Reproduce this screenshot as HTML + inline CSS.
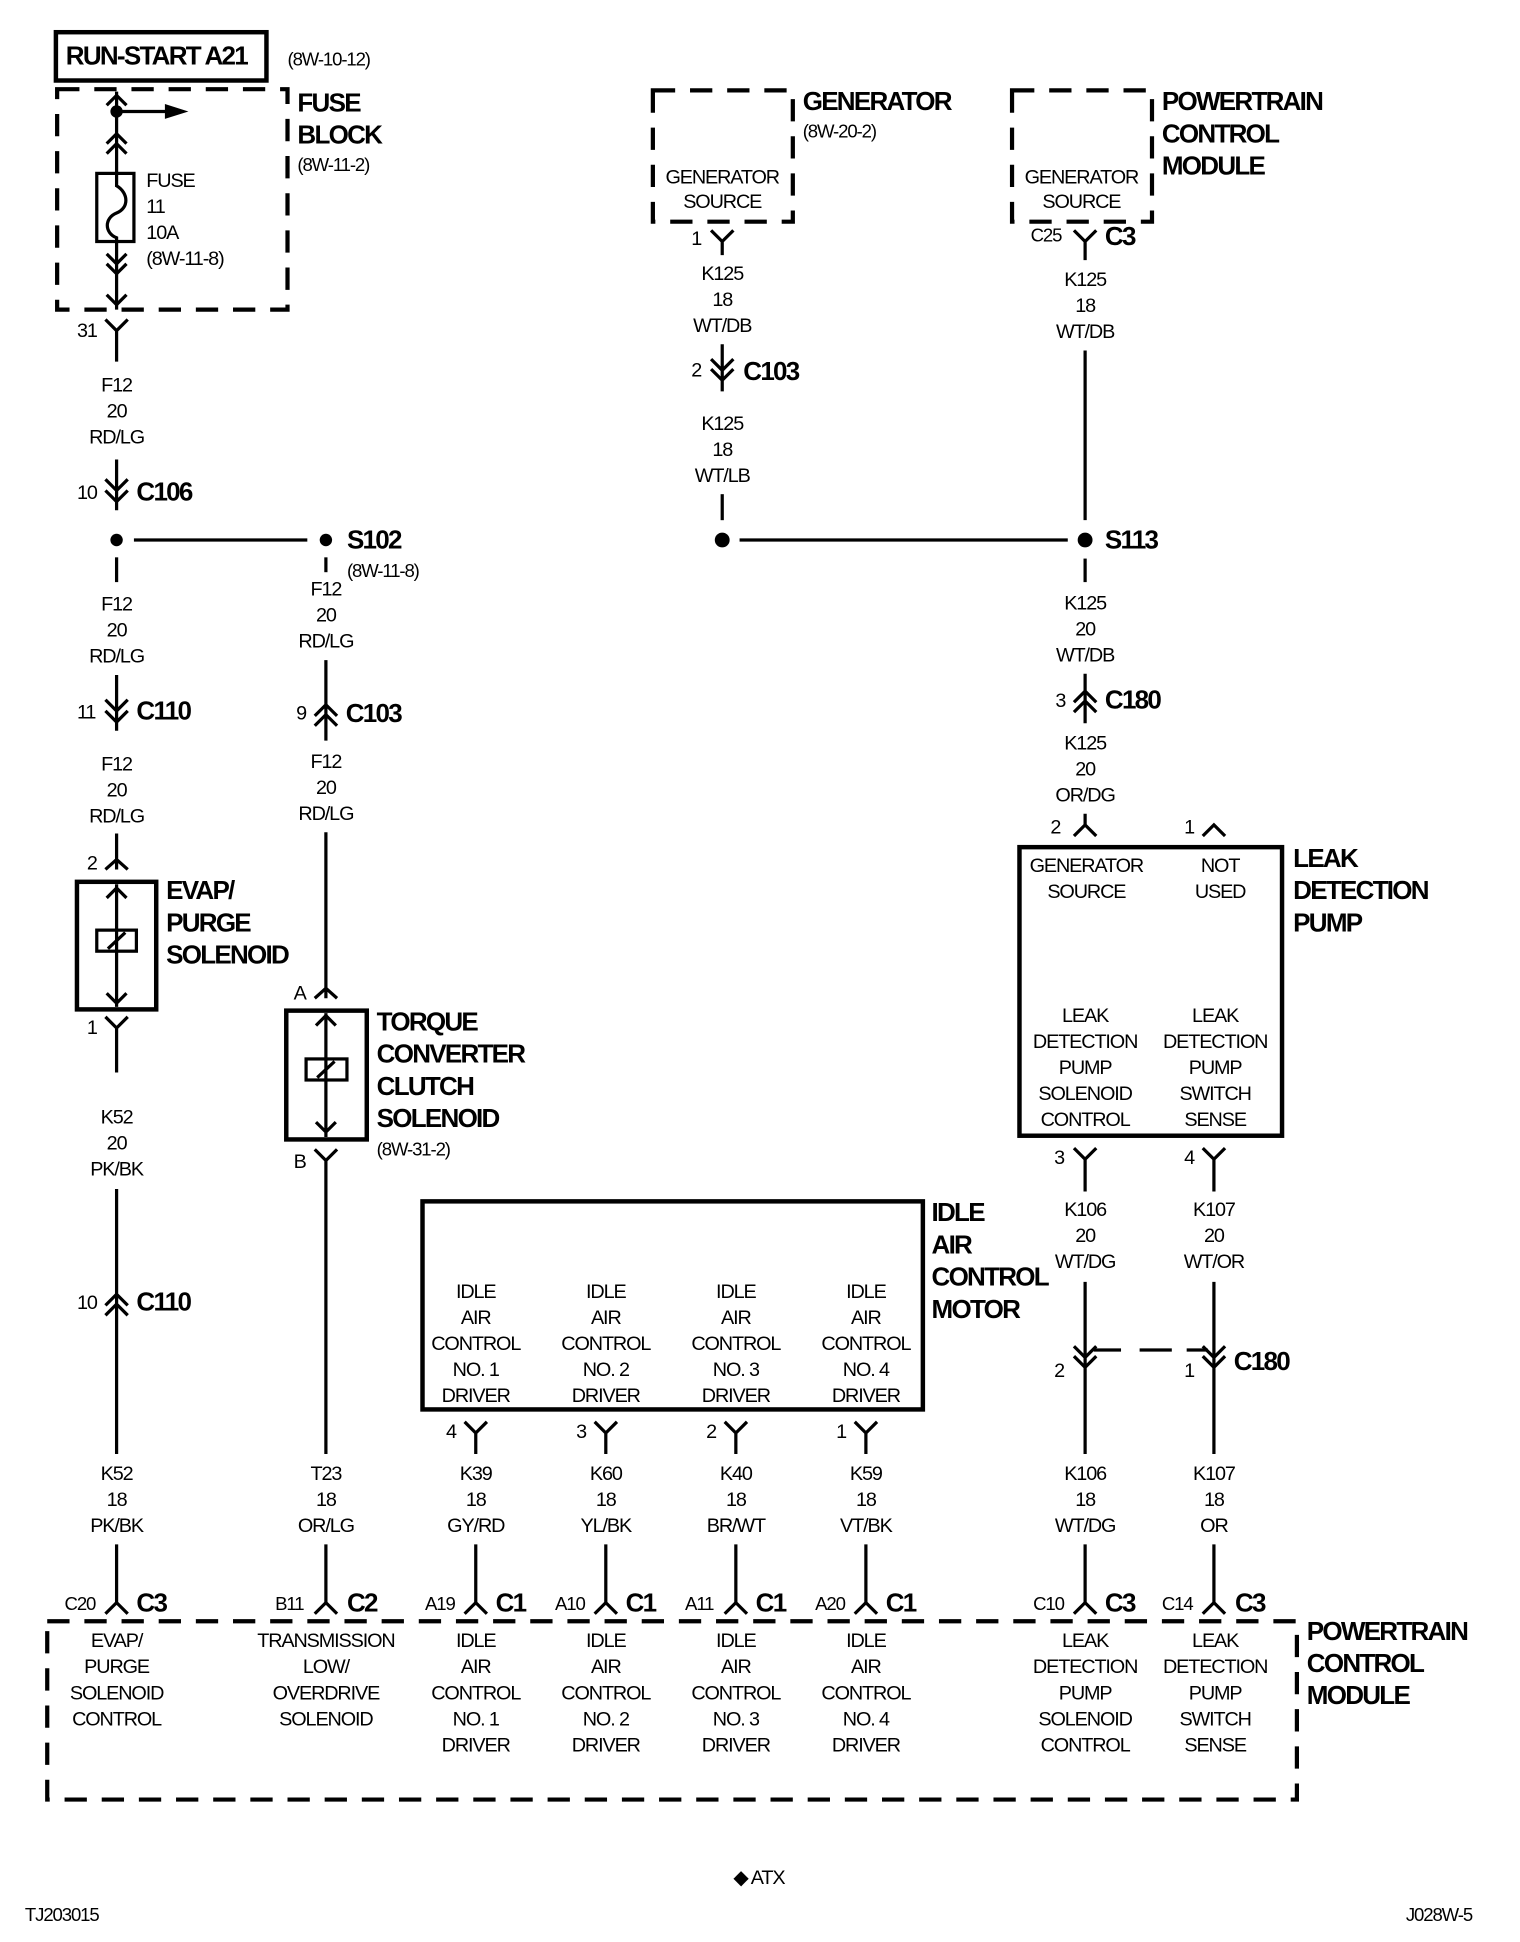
<!DOCTYPE html>
<html><head><meta charset="utf-8"><style>
html,body{margin:0;padding:0;background:#fff}
svg{display:block}
text{font-family:"Liberation Sans",sans-serif;fill:#000}
.t{font-size:16px;text-anchor:middle;letter-spacing:-0.9px}
.l{font-size:16px;letter-spacing:-0.9px}
.b{font-size:21px;font-weight:bold;letter-spacing:-1.4px}
.p{font-size:15px;letter-spacing:-0.9px}
.w{stroke:#000;stroke-width:2.6;fill:none}
.d{stroke:#000;stroke-width:3.4;fill:none;stroke-dasharray:18,12}
.bx{stroke:#000;stroke-width:3.6;fill:none}
</style></head><body>
<svg width="1520" height="1942" viewBox="0 0 1227 1568" xmlns="http://www.w3.org/2000/svg">
<rect width="1227" height="1568" fill="#fff"/>
<rect class="bx" x="45" y="26" width="170" height="39"/>
<text class="b" x="53" y="52">RUN-START A21</text>
<text class="p" x="232" y="53">(8W-10-12)</text>
<rect class="d" x="46" y="72" width="186" height="178"/>
<text class="b" x="240" y="90">FUSE</text>
<text class="b" x="240" y="116">BLOCK</text>
<text class="p" x="240" y="138">(8W-11-2)</text>
<path class="w" d="M94 74 V140 M94 195 V250"/>
<path class="w" d="M86 85 L94 77 L102 85 M86 116 L94 108 L102 116 M86 124 L94 116 L102 124 M86 205 L94 213 L102 205 M86 213 L94 221 L102 213 M86 238 L94 246 L102 238"/>
<circle cx="94" cy="90" r="5"/>
<path class="w" d="M94 90 H135"/><path d="M133 84 L152 90 L133 96Z"/>
<rect class="w" x="78" y="140" width="30" height="55"/>
<path class="w" d="M94 140 V150 C104 156 104 168 94 172 C84 176 84 188 94 192 V195"/>
<text class="l" x="118" y="151">FUSE</text>
<text class="l" x="118" y="172">11</text>
<text class="l" x="118" y="193">10A</text>
<text class="l" x="118" y="214">(8W-11-8)</text>
<path class="w" d="M85 258 L94 267 L103 258 M94 267 V292"/>
<text class="l" x="62" y="272">31</text>
<text class="t" x="94" y="316">F12</text><text class="t" x="94" y="337">20</text><text class="t" x="94" y="358">RD/LG</text>
<path class="w" d="M94 371 V412 M85 387 L94 396 L103 387 M85 396 L94 405 L103 396"/>
<text class="l" x="62" y="403">10</text><text class="b" x="110" y="404">C106</text>
<circle cx="94" cy="436" r="5"/><circle cx="263" cy="436" r="5"/>
<path class="w" d="M108 436 H248"/>
<text class="b" x="280" y="443">S102</text><text class="p" x="280" y="466">(8W-11-8)</text>
<path class="w" d="M94 450 V470"/>
<text class="t" x="94" y="493">F12</text><text class="t" x="94" y="514">20</text><text class="t" x="94" y="535">RD/LG</text>
<path class="w" d="M94 545 V590 M85 565 L94 574 L103 565 M85 574 L94 583 L103 574"/>
<text class="l" x="62" y="580">11</text><text class="b" x="110" y="581">C110</text>
<text class="t" x="94" y="622">F12</text><text class="t" x="94" y="643">20</text><text class="t" x="94" y="664">RD/LG</text>
<path class="w" d="M94 673 V702 M85 702 L94 694 L103 702"/>
<text class="l" x="70" y="702">2</text>
<rect class="bx" x="62" y="712" width="64" height="103"/>
<path class="w" d="M94 714 V813 M86 725 L94 717 L102 725 M86 802 L94 810 L102 802"/>
<rect class="w" x="78" y="751" width="32" height="17" fill="#fff"/>
<path class="w" d="M87 766 L101 753"/>
<text class="b" x="134" y="726">EVAP/</text><text class="b" x="134" y="752">PURGE</text><text class="b" x="134" y="778">SOLENOID</text>
<path class="w" d="M85 821 L94 830 L103 821 M94 830 V866"/>
<text class="l" x="70" y="835">1</text>
<text class="t" x="94" y="907">K52</text><text class="t" x="94" y="928">20</text><text class="t" x="94" y="949">PK/BK</text>
<path class="w" d="M94 960 V1174 M85 1054 L94 1045 L103 1054 M85 1062 L94 1053 L103 1062"/>
<text class="l" x="62" y="1057">10</text><text class="b" x="110" y="1058">C110</text>
<text class="t" x="94" y="1195">K52</text><text class="t" x="94" y="1216">18</text><text class="t" x="94" y="1237">PK/BK</text>
<path class="w" d="M94 1247 V1296 M85 1303 L94 1294 L103 1303"/>
<text class="p" x="52" y="1300">C20</text><text class="b" x="110" y="1301">C3</text>
<path class="w" d="M263 450 V462"/>
<text class="t" x="263" y="481">F12</text><text class="t" x="263" y="502">20</text><text class="t" x="263" y="523">RD/LG</text>
<path class="w" d="M263 533 V598 M254 578 L263 569 L272 578 M254 586 L263 577 L272 586"/>
<text class="l" x="239" y="581">9</text><text class="b" x="279" y="583">C103</text>
<text class="t" x="263" y="620">F12</text><text class="t" x="263" y="641">20</text><text class="t" x="263" y="662">RD/LG</text>
<path class="w" d="M263 672 V806 M254 806 L263 798 L272 806"/>
<text class="l" x="237" y="807">A</text>
<rect class="bx" x="231" y="816" width="65" height="104"/>
<path class="w" d="M263 818 V918 M255 828 L263 820 L271 828 M255 906 L263 914 L271 906"/>
<rect class="w" x="247" y="855" width="33" height="17" fill="#fff"/>
<path class="w" d="M256 870 L270 857"/>
<text class="b" x="304" y="832">TORQUE</text><text class="b" x="304" y="858">CONVERTER</text><text class="b" x="304" y="884">CLUTCH</text><text class="b" x="304" y="910">SOLENOID</text>
<text class="p" x="304" y="933">(8W-31-2)</text>
<path class="w" d="M254 928 L263 937 L272 928 M263 937 V1174"/>
<text class="l" x="237" y="943">B</text>
<text class="t" x="263" y="1195">T23</text><text class="t" x="263" y="1216">18</text><text class="t" x="263" y="1237">OR/LG</text>
<path class="w" d="M263 1247 V1296 M254 1303 L263 1294 L272 1303"/>
<text class="p" x="222" y="1300">B11</text><text class="b" x="280" y="1301">C2</text>
<rect class="d" x="527" y="73" width="113" height="106"/>
<text class="b" x="648" y="89">GENERATOR</text><text class="p" x="648" y="111">(8W-20-2)</text>
<text class="t" x="583" y="148">GENERATOR</text><text class="t" x="583" y="168">SOURCE</text>
<path class="w" d="M574 186 L583 195 L592 186 M583 195 V206"/>
<text class="l" x="558" y="198">1</text>
<text class="t" x="583" y="226">K125</text><text class="t" x="583" y="247">18</text><text class="t" x="583" y="268">WT/DB</text>
<path class="w" d="M583 278 V316 M574 290 L583 299 L592 290 M574 298 L583 307 L592 298"/>
<text class="l" x="558" y="304">2</text><text class="b" x="600" y="307">C103</text>
<text class="t" x="583" y="347">K125</text><text class="t" x="583" y="368">18</text><text class="t" x="583" y="389">WT/LB</text>
<path class="w" d="M583 399 V420"/>
<circle cx="583" cy="436" r="6"/><circle cx="876" cy="436" r="6"/>
<path class="w" d="M597 436 H862"/>
<text class="b" x="892" y="443">S113</text>
<rect class="d" x="817" y="73" width="113" height="106"/>
<text class="b" x="938" y="89">POWERTRAIN</text><text class="b" x="938" y="115">CONTROL</text><text class="b" x="938" y="141">MODULE</text>
<text class="t" x="873" y="148">GENERATOR</text><text class="t" x="873" y="168">SOURCE</text>
<path class="w" d="M867 186 L876 195 L885 186 M876 195 V210"/>
<text class="p" x="832" y="195">C25</text><text class="b" x="892" y="198">C3</text>
<text class="t" x="876" y="231">K125</text><text class="t" x="876" y="252">18</text><text class="t" x="876" y="273">WT/DB</text>
<path class="w" d="M876 283 V420"/>
<path class="w" d="M876 451 V470"/>
<text class="t" x="876" y="492">K125</text><text class="t" x="876" y="513">20</text><text class="t" x="876" y="534">WT/DB</text>
<path class="w" d="M876 544 V584 M867 567 L876 558 L885 567 M867 575 L876 566 L885 575"/>
<text class="l" x="852" y="571">3</text><text class="b" x="892" y="572">C180</text>
<text class="t" x="876" y="605">K125</text><text class="t" x="876" y="626">20</text><text class="t" x="876" y="647">OR/DG</text>
<path class="w" d="M876 657 V667 M867 675 L876 666 L885 675 M971 675 L980 666 L989 675"/>
<text class="l" x="848" y="673">2</text><text class="l" x="956" y="673">1</text>
<rect class="bx" x="823" y="684" width="212" height="233"/>
<text class="b" x="1044" y="700">LEAK</text><text class="b" x="1044" y="726">DETECTION</text><text class="b" x="1044" y="752">PUMP</text>
<text class="t" x="877" y="704">GENERATOR</text><text class="t" x="877" y="725">SOURCE</text>
<text class="t" x="985" y="704">NOT</text><text class="t" x="985" y="725">USED</text>
<text class="t" x="876" y="825">LEAK</text><text class="t" x="876" y="846">DETECTION</text><text class="t" x="876" y="867">PUMP</text><text class="t" x="876" y="888">SOLENOID</text><text class="t" x="876" y="909">CONTROL</text>
<text class="t" x="981" y="825">LEAK</text><text class="t" x="981" y="846">DETECTION</text><text class="t" x="981" y="867">PUMP</text><text class="t" x="981" y="888">SWITCH</text><text class="t" x="981" y="909">SENSE</text>
<path class="w" d="M867 927 L876 936 L885 927 M876 936 V962 M971 927 L980 936 L989 927 M980 936 V962"/>
<text class="l" x="851" y="940">3</text><text class="l" x="956" y="940">4</text>
<text class="t" x="876" y="982">K106</text><text class="t" x="876" y="1003">20</text><text class="t" x="876" y="1024">WT/DG</text>
<text class="t" x="980" y="982">K107</text><text class="t" x="980" y="1003">20</text><text class="t" x="980" y="1024">WT/OR</text>
<path class="w" d="M876 1035 V1174 M867 1087 L876 1096 L885 1087 M867 1095 L876 1104 L885 1095"/>
<path class="w" d="M980 1035 V1174 M971 1087 L980 1096 L989 1087 M971 1095 L980 1104 L989 1095"/>
<path class="w" d="M883 1090 H905 M920 1090 H946 M958 1090 H975"/>
<text class="l" x="851" y="1112">2</text><text class="l" x="956" y="1112">1</text>
<text class="b" x="996" y="1106">C180</text>
<text class="t" x="876" y="1195">K106</text><text class="t" x="876" y="1216">18</text><text class="t" x="876" y="1237">WT/DG</text>
<text class="t" x="980" y="1195">K107</text><text class="t" x="980" y="1216">18</text><text class="t" x="980" y="1237">OR</text>
<path class="w" d="M876 1247 V1296 M867 1303 L876 1294 L885 1303 M980 1247 V1296 M971 1303 L980 1294 L989 1303"/>
<text class="p" x="834" y="1300">C10</text><text class="b" x="892" y="1301">C3</text>
<text class="p" x="938" y="1300">C14</text><text class="b" x="997" y="1301">C3</text>
<rect class="bx" x="341" y="970" width="404" height="168"/>
<text class="b" x="752" y="986">IDLE</text><text class="b" x="752" y="1012">AIR</text><text class="b" x="752" y="1038">CONTROL</text><text class="b" x="752" y="1064">MOTOR</text>
<text class="t" x="384" y="1048">IDLE</text><text class="t" x="384" y="1069">AIR</text><text class="t" x="384" y="1090">CONTROL</text><text class="t" x="384" y="1111">NO. 1</text><text class="t" x="384" y="1132">DRIVER</text>
<text class="t" x="489" y="1048">IDLE</text><text class="t" x="489" y="1069">AIR</text><text class="t" x="489" y="1090">CONTROL</text><text class="t" x="489" y="1111">NO. 2</text><text class="t" x="489" y="1132">DRIVER</text>
<text class="t" x="594" y="1048">IDLE</text><text class="t" x="594" y="1069">AIR</text><text class="t" x="594" y="1090">CONTROL</text><text class="t" x="594" y="1111">NO. 3</text><text class="t" x="594" y="1132">DRIVER</text>
<text class="t" x="699" y="1048">IDLE</text><text class="t" x="699" y="1069">AIR</text><text class="t" x="699" y="1090">CONTROL</text><text class="t" x="699" y="1111">NO. 4</text><text class="t" x="699" y="1132">DRIVER</text>
<path class="w" d="M375 1148 L384 1157 L393 1148 M384 1157 V1174 M480 1148 L489 1157 L498 1148 M489 1157 V1174 M585 1148 L594 1157 L603 1148 M594 1157 V1174 M690 1148 L699 1157 L708 1148 M699 1157 V1174"/>
<text class="l" x="360" y="1161">4</text><text class="l" x="465" y="1161">3</text><text class="l" x="570" y="1161">2</text><text class="l" x="675" y="1161">1</text>
<text class="t" x="384" y="1195">K39</text><text class="t" x="384" y="1216">18</text><text class="t" x="384" y="1237">GY/RD</text>
<text class="t" x="489" y="1195">K60</text><text class="t" x="489" y="1216">18</text><text class="t" x="489" y="1237">YL/BK</text>
<text class="t" x="594" y="1195">K40</text><text class="t" x="594" y="1216">18</text><text class="t" x="594" y="1237">BR/WT</text>
<text class="t" x="699" y="1195">K59</text><text class="t" x="699" y="1216">18</text><text class="t" x="699" y="1237">VT/BK</text>
<path class="w" d="M384 1247 V1296 M375 1303 L384 1294 L393 1303 M489 1247 V1296 M480 1303 L489 1294 L498 1303 M594 1247 V1296 M585 1303 L594 1294 L603 1303 M699 1247 V1296 M690 1303 L699 1294 L708 1303"/>
<text class="p" x="343" y="1300">A19</text><text class="b" x="400" y="1301">C1</text>
<text class="p" x="448" y="1300">A10</text><text class="b" x="505" y="1301">C1</text>
<text class="p" x="553" y="1300">A11</text><text class="b" x="610" y="1301">C1</text>
<text class="p" x="658" y="1300">A20</text><text class="b" x="715" y="1301">C1</text>
<rect class="d" x="38" y="1309" width="1009" height="144"/>
<text class="b" x="1055" y="1324">POWERTRAIN</text><text class="b" x="1055" y="1350">CONTROL</text><text class="b" x="1055" y="1376">MODULE</text>
<text class="t" x="94" y="1330">EVAP/</text><text class="t" x="94" y="1351">PURGE</text><text class="t" x="94" y="1372">SOLENOID</text><text class="t" x="94" y="1393">CONTROL</text>
<text class="t" x="263" y="1330">TRANSMISSION</text><text class="t" x="263" y="1351">LOW/</text><text class="t" x="263" y="1372">OVERDRIVE</text><text class="t" x="263" y="1393">SOLENOID</text>
<text class="t" x="384" y="1330">IDLE</text><text class="t" x="384" y="1351">AIR</text><text class="t" x="384" y="1372">CONTROL</text><text class="t" x="384" y="1393">NO. 1</text><text class="t" x="384" y="1414">DRIVER</text>
<text class="t" x="489" y="1330">IDLE</text><text class="t" x="489" y="1351">AIR</text><text class="t" x="489" y="1372">CONTROL</text><text class="t" x="489" y="1393">NO. 2</text><text class="t" x="489" y="1414">DRIVER</text>
<text class="t" x="594" y="1330">IDLE</text><text class="t" x="594" y="1351">AIR</text><text class="t" x="594" y="1372">CONTROL</text><text class="t" x="594" y="1393">NO. 3</text><text class="t" x="594" y="1414">DRIVER</text>
<text class="t" x="699" y="1330">IDLE</text><text class="t" x="699" y="1351">AIR</text><text class="t" x="699" y="1372">CONTROL</text><text class="t" x="699" y="1393">NO. 4</text><text class="t" x="699" y="1414">DRIVER</text>
<text class="t" x="876" y="1330">LEAK</text><text class="t" x="876" y="1351">DETECTION</text><text class="t" x="876" y="1372">PUMP</text><text class="t" x="876" y="1393">SOLENOID</text><text class="t" x="876" y="1414">CONTROL</text>
<text class="t" x="981" y="1330">LEAK</text><text class="t" x="981" y="1351">DETECTION</text><text class="t" x="981" y="1372">PUMP</text><text class="t" x="981" y="1393">SWITCH</text><text class="t" x="981" y="1414">SENSE</text>
<text class="l" x="592" y="1521">◆ ATX</text>
<text class="p" x="20" y="1551">TJ203015</text>
<text class="p" x="1135" y="1551">J028W-5</text>
</svg>
</body></html>
